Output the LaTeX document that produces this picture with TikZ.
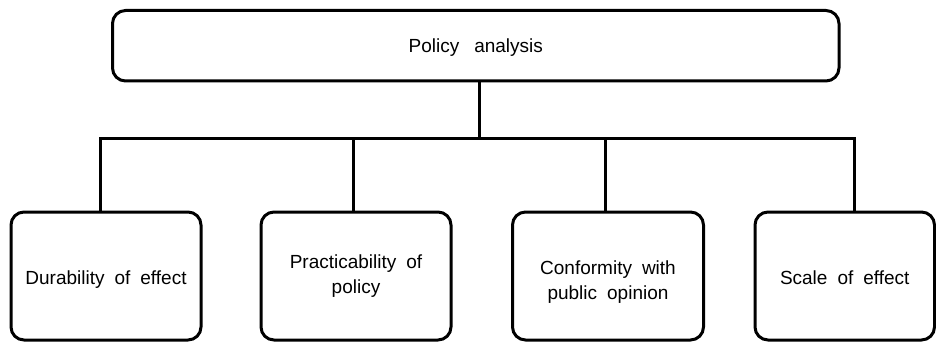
\documentclass[tikz,border=0pt]{standalone}
\usepackage{fontspec}
\setmainfont{Liberation Sans}
\newcommand{\lowertext}[2]{\raisebox{-#1}[\height][\depth]{#2}}
\begin{document}
\begin{tikzpicture}[x=1pt,y=-1pt,
  line width=3pt,
  box/.style={draw=black, line width=3pt, rounded corners=13pt, inner sep=0pt, align=center,
    font=\fontsize{19}{24.5}\selectfont,
    execute at begin node={\spaceskip=10pt\relax}},
  wire/.style={draw=black, line width=3pt}]
\useasboundingbox (0,0) rectangle (936,342);
\node[box, minimum width=726.5pt, minimum height=70.5pt] (top) at (475.75,45.75) {\lowertext{2pt}{Policy\hspace{5pt} analysis}};
\node[box, minimum width=190pt, minimum height=128pt] (b1) at (106,276) {\lowertext{4pt}{Durability of effect}};
\node[box, minimum width=190pt, minimum height=128pt] (b2) at (356,276) {Practicability of\\policy};
\node[box, minimum width=191pt, minimum height=128pt] (b3) at (608,276) {\lowertext{6pt}{Conformity with}\\\lowertext{6pt}{public opinion}};
\node[box, minimum width=179.5pt, minimum height=128pt] (b4) at (844.75,276) {\lowertext{2pt}{Scale of effect}};
\coordinate (jt) at (479,138.5);
\coordinate (j1) at (100.5,138.5);
\coordinate (j2) at (353,138.5);
\coordinate (j3) at (605,138.5);
\coordinate (j4) at (854,138.5);
\draw[wire] (top.south -| jt) -- (jt);
\draw[wire] (j1 |- b1.north) -- (j1) -- (j4) -- (j4 |- b4.north);
\draw[wire] (j2) -- (j2 |- b2.north);
\draw[wire] (j3) -- (j3 |- b3.north);
\end{tikzpicture}
\end{document}
